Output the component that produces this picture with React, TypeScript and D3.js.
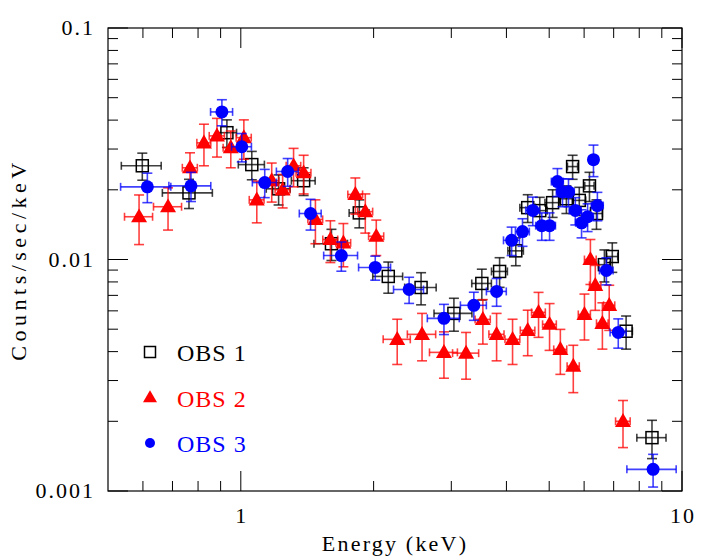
import React from 'react';
import * as d3 from 'd3';

// OBS 1 (open squares)
const obs1Energy = [0.598, 0.763, 0.93, 1.059, 1.218, 1.388, 1.605, 1.856, 2.159, 2.562, 3.041, 3.518, 3.86, 4.2, 4.47, 4.76, 5.09, 5.47, 5.65, 5.85, 6.17, 6.4, 6.67, 6.95, 7.47, 8.55];
const obs1EnergyErr = [0.062, 0.099, 0.048, 0.072, 0.076, 0.086, 0.14, 0.096, 0.168, 0.21, 0.3, 0.18, 0.16, 0.17, 0.18, 0.19, 0.2, 0.2, 0.15, 0.2, 0.15, 0.2, 0.2, 0.2, 0.25, 0.65];
const obs1Rate = [0.0254, 0.0194, 0.0353, 0.0257, 0.0202, 0.0219, 0.0117, 0.0159, 0.00845, 0.00757, 0.00585, 0.00788, 0.00888, 0.0109, 0.01675, 0.01626, 0.0176, 0.0183, 0.0252, 0.018, 0.0208, 0.0158, 0.0095, 0.0103, 0.0049, 0.0017];
const obs1RateErr = [0.0034, 0.0028, 0.0048, 0.0036, 0.003, 0.003, 0.0018, 0.0022, 0.0013, 0.0012, 0.00095, 0.0012, 0.0013, 0.0015, 0.0023, 0.0023, 0.0024, 0.0025, 0.003, 0.0025, 0.003, 0.0023, 0.0015, 0.0015, 0.0008, 0.00032];

// OBS 2 (filled triangles)
const obs2Energy = [0.588, 0.684, 0.767, 0.825, 0.883, 0.949, 1.016, 1.087, 1.175, 1.244, 1.317, 1.388, 1.476, 1.596, 1.708, 1.818, 1.915, 2.028, 2.262, 2.575, 2.887, 3.24, 3.537, 3.8, 4.13, 4.47, 4.73, 5.01, 5.3, 5.67, 6.01, 6.2, 6.36, 6.6, 6.84, 7.35];
const obs2EnergyErr = [0.043, 0.05, 0.03, 0.03, 0.035, 0.037, 0.04, 0.042, 0.045, 0.048, 0.05, 0.054, 0.057, 0.062, 0.066, 0.07, 0.075, 0.08, 0.16, 0.19, 0.21, 0.22, 0.14, 0.15, 0.16, 0.17, 0.17, 0.18, 0.18, 0.18, 0.19, 0.19, 0.19, 0.2, 0.2, 0.28];
const obs2Rate = [0.0153, 0.0169, 0.0249, 0.0319, 0.0342, 0.0304, 0.0336, 0.0181, 0.0219, 0.02, 0.0254, 0.0237, 0.0149, 0.0122, 0.0118, 0.0191, 0.0161, 0.0126, 0.00452, 0.00475, 0.00397, 0.00394, 0.00551, 0.00475, 0.00452, 0.00494, 0.00591, 0.00525, 0.00409, 0.00346, 0.00579, 0.01, 0.00773, 0.0053, 0.00634, 0.002];
const obs2RateErr = [0.0037, 0.0035, 0.004, 0.0065, 0.0065, 0.0055, 0.0065, 0.0037, 0.0042, 0.0033, 0.0048, 0.0045, 0.0032, 0.0025, 0.0025, 0.0034, 0.0031, 0.0022, 0.001, 0.0011, 0.0009, 0.0009, 0.0012, 0.0011, 0.001, 0.0011, 0.0013, 0.0012, 0.0009, 0.0008, 0.0013, 0.0022, 0.0017, 0.0012, 0.0014, 0.00046];

// OBS 3 (filled circles)
const obs3Energy = [0.614, 0.771, 0.906, 1.005, 1.133, 1.277, 1.439, 1.69, 2.017, 2.407, 2.887, 3.374, 3.8, 4.11, 4.35, 4.59, 4.81, 5.01, 5.22, 5.36, 5.53, 5.73, 5.92, 6.11, 6.3, 6.43, 6.74, 7.17, 8.6];
const obs3EnergyErr = [0.08, 0.084, 0.052, 0.052, 0.071, 0.073, 0.082, 0.149, 0.168, 0.188, 0.24, 0.228, 0.197, 0.171, 0.158, 0.166, 0.15, 0.156, 0.163, 0.17, 0.17, 0.18, 0.18, 0.19, 0.15, 0.2, 0.24, 0.3, 1.1];
const obs3Rate = [0.0206, 0.0208, 0.0434, 0.0307, 0.0215, 0.024, 0.0158, 0.0104, 0.00924, 0.00742, 0.00557, 0.00634, 0.00728, 0.0121, 0.0132, 0.0163, 0.014, 0.014, 0.0217, 0.0196, 0.0196, 0.0163, 0.0144, 0.0153, 0.027, 0.0171, 0.00897, 0.00484, 0.00124];
const obs3RateErr = [0.003, 0.003, 0.0056, 0.0043, 0.003, 0.0033, 0.0024, 0.0015, 0.0011, 0.00096, 0.00083, 0.00088, 0.001, 0.0017, 0.0018, 0.0023, 0.0019, 0.0019, 0.003, 0.0027, 0.0027, 0.0022, 0.002, 0.0021, 0.0042, 0.0024, 0.0012, 0.0007, 0.0002];

const xMajor = [1, 10];
const xMinor = [0.6, 0.7, 0.8, 0.9, 2, 3, 4, 5, 6, 7, 8, 9];
const yMajor = [0.001, 0.01, 0.1];
const yMinor = [0.002, 0.003, 0.004, 0.005, 0.006, 0.007, 0.008, 0.009, 0.02, 0.03, 0.04, 0.05, 0.06, 0.07, 0.08, 0.09];
const xTickLabels = ['1', '10'];
const yTickLabels = ['0.001', '0.01', '0.1'];

const series = [
  { name: 'OBS 1', color: '#000000', marker: 'square', e: obs1Energy, de: obs1EnergyErr, r: obs1Rate, dr: obs1RateErr },
  { name: 'OBS 2', color: '#ff0000', marker: 'triangle', e: obs2Energy, de: obs2EnergyErr, r: obs2Rate, dr: obs2RateErr },
  { name: 'OBS 3', color: '#0000ff', marker: 'circle', e: obs3Energy, de: obs3EnergyErr, r: obs3Rate, dr: obs3RateErr },
];

const W = 708;
const H = 560;
const margin = { top: 28, right: 26, bottom: 69, left: 108 };
const FONT = '"Liberation Serif", "DejaVu Serif", serif';

const Marker = ({ type, x, y, color, s }) => {
  if (type === 'square') {
    return <rect x={x - s / 2} y={y - s / 2} width={s} height={s} fill="none" stroke={color} strokeWidth={1.5} />;
  }
  if (type === 'triangle') {
    // equilateral-ish triangle centred on the point
    const h = s * 0.87;
    const p = `M${x},${y - h * 0.6}L${x + s / 2},${y + h * 0.4}L${x - s / 2},${y + h * 0.4}Z`;
    return <path d={p} fill={color} />;
  }
  return <circle cx={x} cy={y} r={s / 2} fill={color} />;
};

export default function App() {
  const x = d3.scaleLog().domain([0.5, 10]).range([margin.left, W - margin.right]);
  const y = d3.scaleLog().domain([0.001, 0.1]).range([H - margin.bottom, margin.top]);
  const x0 = margin.left, x1 = W - margin.right, y0 = H - margin.bottom, y1 = margin.top;
  const clampY = (v) => Math.max(0.001, Math.min(0.1, v));
  const clampX = (v) => Math.max(0.5, Math.min(10, v));

  return (
    <svg width={W} height={H} style={{ position: 'absolute', left: 0, top: 0, background: '#fff' }} fontFamily={FONT}>
      <rect x={0} y={0} width={W} height={H} fill="#fff" />
      <defs>
        <clipPath id="plot">
          <rect x={x0} y={y1} width={x1 - x0} height={y0 - y1} />
        </clipPath>
      </defs>

      {/* frame and ticks */}
      <rect x={x0} y={y1} width={x1 - x0} height={y0 - y1} fill="none" stroke="#000" strokeWidth={1.2} />
      {xMajor.map(v => (
        <g key={'xM' + v}>
          <line x1={x(v)} x2={x(v)} y1={y0} y2={y0 - 20} stroke="#000" />
          <line x1={x(v)} x2={x(v)} y1={y1} y2={y1 + 20} stroke="#000" />
        </g>
      ))}
      {xMinor.map(v => (
        <g key={'xm' + v}>
          <line x1={x(v)} x2={x(v)} y1={y0} y2={y0 - 10} stroke="#000" />
          <line x1={x(v)} x2={x(v)} y1={y1} y2={y1 + 10} stroke="#000" />
        </g>
      ))}
      {yMajor.map(v => (
        <g key={'yM' + v}>
          <line x1={x0} x2={x0 + 20} y1={y(v)} y2={y(v)} stroke="#000" />
          <line x1={x1} x2={x1 - 20} y1={y(v)} y2={y(v)} stroke="#000" />
        </g>
      ))}
      {yMinor.map(v => (
        <g key={'ym' + v}>
          <line x1={x0} x2={x0 + 10} y1={y(v)} y2={y(v)} stroke="#000" />
          <line x1={x1} x2={x1 - 10} y1={y(v)} y2={y(v)} stroke="#000" />
        </g>
      ))}

      {/* tick labels */}
      {xMajor.map((v, i) => (
        <text key={'xl' + v} x={x(v) + 1} y={y0 + 32} textAnchor="middle" fontSize={22} letterSpacing={2}>{xTickLabels[i]}</text>
      ))}
      {yMajor.map((v, i) => (
        <text key={'yl' + v} x={x0 - 13} y={y(v) + 7} textAnchor="end" fontSize={22} letterSpacing={2}>{yTickLabels[i]}</text>
      ))}

      {/* axis titles */}
      <text x={(x0 + x1) / 2} y={551} textAnchor="middle" fontSize={22} letterSpacing={2.2}>Energy (keV)</text>
      <text transform={`translate(26,${(y0 + y1) / 2}) rotate(-90)`} textAnchor="middle" fontSize={22} letterSpacing={4.5}>Counts/sec/keV</text>

      {/* data */}
      <g clipPath="url(#plot)">
        {series.map(s => (
          <g key={s.name}>
            {s.e.map((e, i) => {
              const cx = x(e), cy = y(s.r[i]);
              const xl = x(clampX(e - s.de[i])), xr = x(clampX(e + s.de[i]));
              const yt = y(clampY(s.r[i] + s.dr[i])), yb = y(clampY(s.r[i] - s.dr[i]));
              return (
                <g key={i} stroke={s.color} strokeWidth={1.6} strokeOpacity={0.75}>
                  <line x1={xl} x2={xr} y1={cy} y2={cy} />
                  <line x1={cx} x2={cx} y1={yt} y2={yb} />
                  <line x1={xl} x2={xl} y1={cy - 4} y2={cy + 4} />
                  <line x1={xr} x2={xr} y1={cy - 4} y2={cy + 4} />
                  <line x1={cx - 5} x2={cx + 5} y1={yt} y2={yt} />
                  <line x1={cx - 5} x2={cx + 5} y1={yb} y2={yb} />
                </g>
              );
            })}
            {s.e.map((e, i) => (
              <Marker key={'m' + i} type={s.marker} x={x(e)} y={y(s.r[i])} color={s.color} s={s.marker === 'square' ? 12 : s.marker === 'triangle' ? 16 : 13} />
            ))}
          </g>
        ))}
      </g>

      {/* legend */}
      {series.map((s, i) => {
        const ly = 352 + i * 45.5;
        return (
          <g key={'lg' + s.name}>
            <Marker type={s.marker} x={150} y={ly} color={s.color} s={s.marker === 'square' ? 11 : s.marker === 'triangle' ? 14 : 10} />
            <text x={177} y={ly + 9} fontSize={24} fill={s.color} letterSpacing={1}>{s.name}</text>
          </g>
        );
      })}
    </svg>
  );
}
